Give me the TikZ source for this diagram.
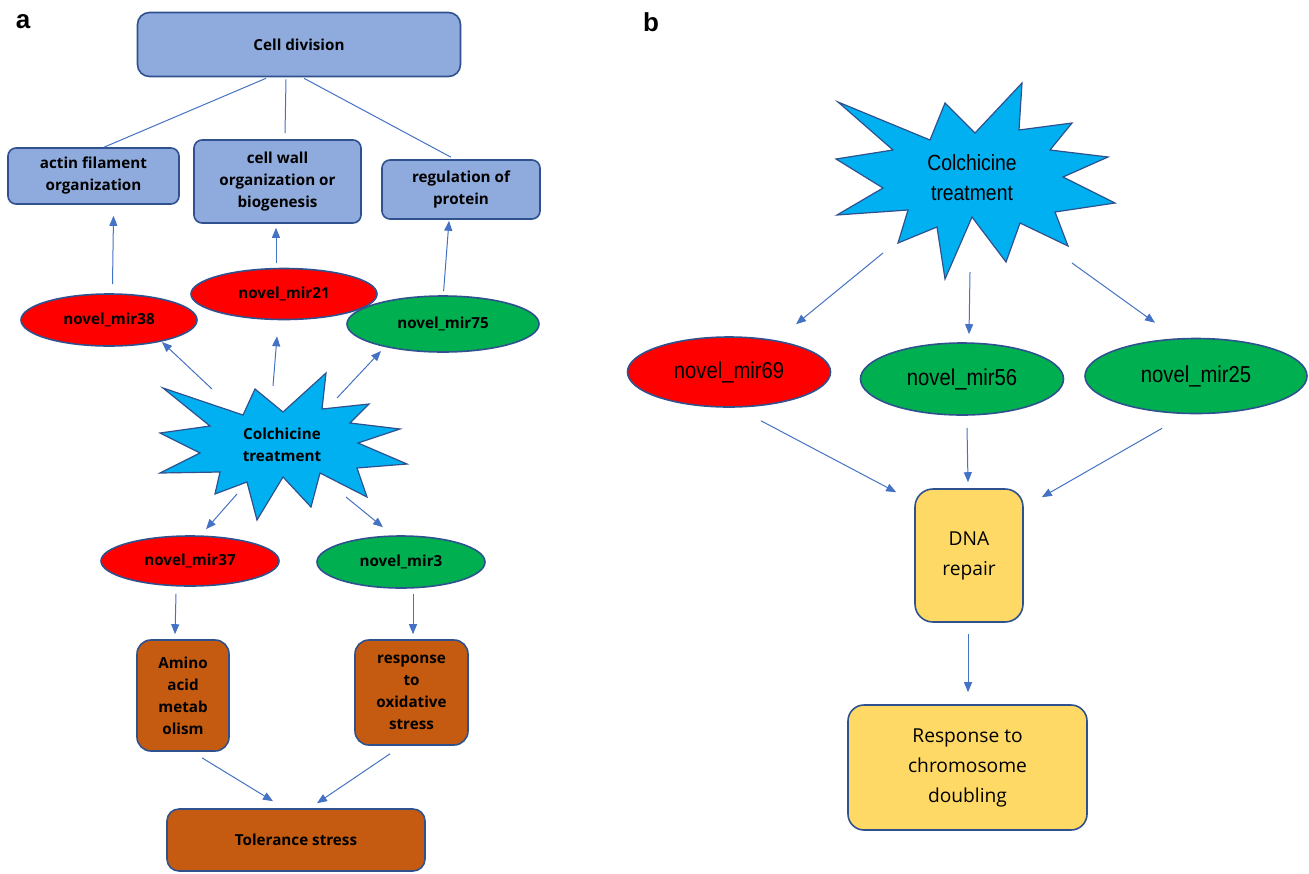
\documentclass[tikz,border=0pt]{standalone}
\usepackage{fontspec}
\setmainfont{Open Sans}
\newfontfamily\narrowfont{Liberation Sans}[FakeStretch=0.88]
\newfontfamily\labelfont{Liberation Sans}
\usepackage{tikz}
\usetikzlibrary{calc,arrows.meta,shapes.geometric}

\definecolor{boxblue}{RGB}{143,170,220}
\definecolor{edgeblue}{RGB}{47,82,143}
\definecolor{arrowblue}{RGB}{68,114,196}
\definecolor{mirred}{RGB}{255,0,0}
\definecolor{mirgreen}{RGB}{0,176,80}
\definecolor{starcyan}{RGB}{0,176,240}
\definecolor{stressbrown}{RGB}{197,90,17}
\definecolor{repairyellow}{RGB}{255,217,102}

\tikzset{
	goterm/.style={draw=edgeblue, line width=0.8pt, fill=boxblue, rounded corners=4pt,
		align=center, inner sep=2pt, font=\bfseries\fontsize{7.6}{11}\selectfont},
	mirna/.style={ellipse, draw=edgeblue, line width=0.8pt, inner sep=0pt,
		font=\bfseries\fontsize{7.6}{11}\selectfont},
	mirnab/.style={ellipse, draw=edgeblue, line width=0.8pt, inner sep=0pt,
		font=\narrowfont\fontsize{11.5}{13}\selectfont},
	stressbox/.style={draw=edgeblue, line width=0.8pt, fill=stressbrown, rounded corners=7pt,
		align=center, inner sep=2pt, font=\bfseries\fontsize{7.6}{11}\selectfont},
	repairbox/.style={draw=edgeblue, line width=0.8pt, fill=repairyellow, rounded corners=9pt,
		align=center, inner sep=2pt, font=\fontsize{9.6}{15}\selectfont},
	burst/.style={draw=edgeblue, line width=0.6pt, fill=starcyan, line join=miter},
	arr/.style={draw=arrowblue, line width=0.5pt, -{Triangle[length=5pt,width=4pt]}},
	link/.style={draw=arrowblue, line width=0.5pt},
}

\begin{document}
\begin{tikzpicture}[x=0.5pt, y=-0.5pt]
	\useasboundingbox (0,0) rectangle (1309,873);

	% ---------------------
	% Panel labels
	\node[font=\labelfont\bfseries\fontsize{13}{15}\selectfont] (la) at (23,22) {a};
	\node[font=\labelfont\bfseries\fontsize{13}{15}\selectfont] (lb) at (651,22) {b};

	% ---------------------
	% Panel a : GO terms
	\node[goterm, minimum width=161.5pt, minimum height=32pt, rounded corners=6pt] (cd) at (299,44.5) {Cell division};
	\node[goterm, minimum width=85.5pt, minimum height=28pt] (act) at (93.5,176) {actin filament\\organization};
	\node[goterm, minimum width=83.5pt, minimum height=41.5pt] (cw) at (277.5,181.5) {cell wall\\organization or\\biogenesis};
	\node[goterm, minimum width=79pt, minimum height=29.5pt] (reg) at (461,189.5) {regulation of\\protein};

	% ---------------------
	% Panel a : miRNAs
	\node[mirna, fill=mirred, minimum width=88pt, minimum height=26pt] (m38) at (109,320) {novel\_mir38};
	\node[mirna, fill=mirred, minimum width=93pt, minimum height=25.5pt] (m21) at (284,294) {novel\_mir21};
	\node[mirna, fill=mirgreen, minimum width=96pt, minimum height=28pt] (m75) at (443,324) {novel\_mir75};
	\node[mirna, fill=mirred, minimum width=89pt, minimum height=25pt] (m37) at (190,561) {novel\_mir37};
	\node[mirna, fill=mirgreen, minimum width=84pt, minimum height=26pt] (m3) at (401,562) {novel\_mir3};

	% ---------------------
	% Panel a : Colchicine burst
	\draw[burst] (255,389) -- (283,412) -- (326,373) -- (322,409) -- (369,404) -- (350,423)
		-- (400,429) -- (358,443) -- (407,464) -- (357,468) -- (367,497) -- (320,473)
		-- (311,507) -- (283,477) -- (257,520) -- (247,482) -- (215,494) -- (220,472)
		-- (160,473) -- (200,453) -- (160,433) -- (210,426) -- (163,388) -- (243,415) -- cycle;
	\node[align=center, font=\bfseries\fontsize{7.6}{11}\selectfont] (ca) at (282,445) {Colchicine\\treatment};
	\coordinate (caNW) at (212,389);
	\coordinate (caN)  at (273,386);
	\coordinate (caNE) at (337,398);
	\coordinate (caSW) at (237,494);
	\coordinate (caSE) at (346,497);

	% ---------------------
	% Panel a : stress terms
	\node[stressbox, minimum width=46pt, minimum height=55.5pt] (amino) at (183,695.5) {Amino\\acid\\metab\\olism};
	\node[stressbox, minimum width=56.5pt, minimum height=52.5pt] (oxi) at (411.5,692.5) {response\\to\\oxidative\\stress};
	\node[stressbox, minimum width=129pt, minimum height=31pt, rounded corners=6pt] (tol) at (296,840) {Tolerance stress};

	% ---------------------
	% Panel a : connectors
	\draw[link] ($(cd.south)+(-33,1)$) -- ($(act.north)+(10.5,0)$);
	\draw[link] ($(cd.south)+(-13,2)$) -- ($(cw.north)+(7.5,-6)$);
	\draw[link] ($(cd.south)+(5,1)$)   -- ($(reg.north)+(-10,-2)$);

	\draw[arr] ($(m38.north)+(3.5,-9)$) -- ($(act.south)+(20,11)$);
	\draw[arr] ($(m21.north)+(-8,-5)$)  -- ($(cw.south)+(-1.5,4)$);
	\draw[arr] ($(m75.north)+(0.6,-4)$) -- ($(reg.south)+(-12,1)$);

	\draw[arr] (caNW) -- ($(m38)+(53,22)$);
	\draw[arr] (caN)  -- ($(m21.south)+(-7,16)$);
	\draw[arr] (caNE) -- ($(m75)+(-62,27)$);
	\draw[arr] (caSW) -- ($(m37.north)+(16,-6)$);
	\draw[arr] (caSE) -- ($(m3.north)+(-18,-8)$);

	\draw[arr] ($(m37.south)+(-14,7)$) -- ($(amino.north)+(-8,-5)$);
	\draw[arr] ($(m3.south)+(12,5)$)   -- ($(oxi.north)+(1.5,-5)$);
	\draw[arr] ($(amino.south)+(19,6)$)  -- ($(tol.north)+(-23,-7)$);
	\draw[arr] ($(oxi.south)+(-21.5,8)$) -- ($(tol.north)+(21,-5)$);

	% ---------------------
	% Panel b : Colchicine burst
	\draw[burst] (1022,83) -- (1019,130) -- (1072,123) -- (1050,150) -- (1108,157) -- (1063,177)
		-- (1115,203) -- (1055,212) -- (1068,246) -- (1020,223) -- (1006,262) -- (972,217)
		-- (945,279) -- (937,227) -- (898,243) -- (908,210) -- (837,215) -- (883,188)
		-- (836,159) -- (893,150) -- (838,102) -- (930,140) -- (945,103) -- (975,133) -- cycle;
	\node[align=center, font=\narrowfont\fontsize{11}{15}\selectfont] (cb) at (972,178) {Colchicine\\treatment};
	\coordinate (cbW) at (883,253);
	\coordinate (cbS) at (970,272);
	\coordinate (cbE) at (1072,263);

	% ---------------------
	% Panel b : miRNAs and terms
	\node[mirnab, fill=mirred, minimum width=101.5pt, minimum height=35pt] (m69) at (729,372) {novel\_mir69};
	\node[mirnab, fill=mirgreen, minimum width=101.5pt, minimum height=36pt] (m56) at (962,379) {novel\_mir56};
	\node[mirnab, fill=mirgreen, minimum width=111pt, minimum height=37.5pt] (m25) at (1196,376) {novel\_mir25};

	\node[repairbox, minimum width=54pt, minimum height=66.5pt] (dna) at (969,555.5) {DNA\\repair};
	\node[repairbox, minimum width=119.5pt, minimum height=62.5pt, rounded corners=8pt] (resp) at (967.5,767.5) {Response to\\chromosome\\doubling};

	% ---------------------
	% Panel b : connectors
	\draw[arr] (cbW) -- ($(m69.north)+(67,-12)$);
	\draw[arr] (cbS) -- ($(m56.north)+(7,-8)$);
	\draw[arr] (cbE) -- ($(m25.north)+(-41,-15)$);

	\draw[arr] ($(m69.south)+(32,13)$)  -- ($(dna.north west)+(-18,4)$);
	\draw[arr] ($(m56.south)+(5,12)$)   -- ($(dna.north)+(-1,-6)$);
	\draw[arr] ($(m25.south)+(-34,14)$) -- ($(dna.north east)+(18,9)$);
	\draw[arr] ($(dna.south)+(-1,11)$)  -- ($(resp.north)+(0.5,-12)$);

\end{tikzpicture}
\end{document}
